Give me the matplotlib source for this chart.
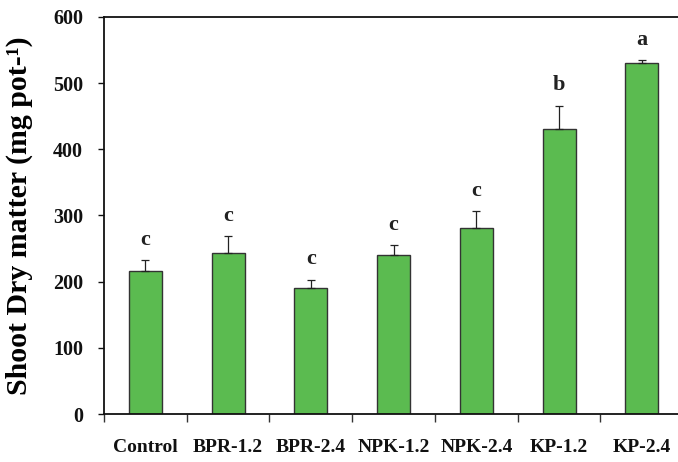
import matplotlib
matplotlib.use("Agg")
import matplotlib.pyplot as plt
import numpy as np

# Shoot dry matter per treatment (mg pot^-1), mean and upper error
treatments = ["Control", "BPR-1.2", "BPR-2.4", "NPK-1.2", "NPK-2.4", "KP-1.2", "KP-2.4"]
shoot_dm = [216, 243, 190, 241, 281, 430, 530]
shoot_err = [17, 26, 13, 14, 26, 36, 5]
groups = ["c", "c", "c", "c", "c", "b", "a"]
y_ticks = [0, 100, 200, 300, 400, 500, 600]

plt.rcParams["font.family"] = ["Liberation Serif", "DejaVu Serif"]
plt.rcParams["font.weight"] = "bold"

fig = plt.figure(figsize=(6.78, 4.62), dpi=100)
ax = fig.add_axes([104 / 678, 48 / 462, 574 / 678, 397 / 462])

x = np.arange(len(treatments))
ax.bar(x, shoot_dm, width=0.4, color="#5BBB50", edgecolor="#333333",
       linewidth=1.0, zorder=2)
ax.errorbar(x, shoot_dm, yerr=[np.zeros(len(shoot_err)), shoot_err],
            fmt="none", ecolor="#222222", elinewidth=0.9, capsize=3,
            capthick=0.9, zorder=3)

for xi, m, e, g in zip(x, shoot_dm, shoot_err, groups):
    ax.annotate(g, xy=(xi, m + e), xytext=(0, 11), textcoords="offset points",
                ha="center", va="baseline", fontsize=16, fontweight="bold",
                color="#222222")

ax.set_xlim(-0.5, 6.437)
ax.set_ylim(0, 600)

ax.set_yticks(y_ticks)
ax.set_yticklabels([str(t) for t in y_ticks], fontsize=14.5, fontweight="bold")
ax.tick_params(axis="y", direction="out", length=4, width=1.0, pad=11,
               colors="#111111")

ax.set_xticks(x)
ax.set_xticklabels(treatments, fontsize=14, fontweight="bold")
ax.tick_params(axis="x", which="major", length=0, pad=18, colors="#111111")
ax.set_xticks(np.arange(-0.5, 6.0, 1.0), minor=True)
ax.tick_params(axis="x", which="minor", direction="out", length=6, width=1.0,
               color="#333333")

for side in ("left", "bottom", "top"):
    ax.spines[side].set_linewidth(1.3)
    ax.spines[side].set_color("#111111")
ax.spines["right"].set_visible(False)

ax.set_ylabel("Shoot Dry matter (mg pot-¹)", fontsize=21.5, fontweight="bold")
ax.yaxis.set_label_coords(-0.124, 0.5)

fig.savefig("out.png", dpi=100)
